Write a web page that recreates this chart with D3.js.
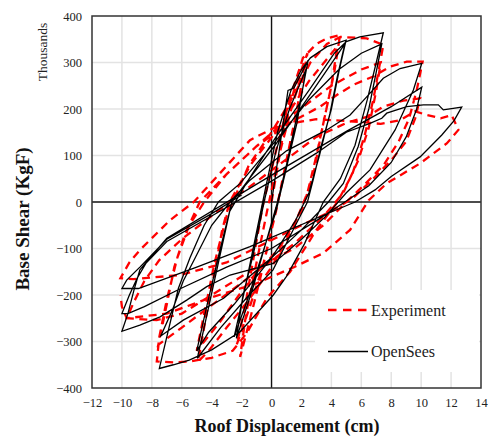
<!DOCTYPE html>
<html><head><meta charset="utf-8">
<script src="https://cdn.jsdelivr.net/npm/d3@7/dist/d3.min.js"></script>
<style>body{margin:0;background:#fff}svg{display:block}</style>
</head><body><svg id="c" width="489" height="437"></svg>
<script>
// ---- data (x: roof displacement cm, y: base shear, thousands kgf) ----
const xTicks = [-12,-10,-8,-6,-4,-2,0,2,4,6,8,10,12,14];
const yTicks = [-400,-300,-200,-100,0,100,200,300,400];
const seriesNames = ["Experiment","OpenSees"];

const expDisp = [0,0.8,1.5,2.4, 2.0,1.4,0.7,0,-0.8,-1.5,-2.1, -1.7,-1.0,-0.3,0.5,1.4,2.2,
 1.7,1.0,0.3,-0.6,-1.5,-2.33, -1.8,-1.2,-0.6,0.3,1.2,2.1,3.0,3.7,4.58,
 4.2,3.6,3.0,2.4,1.4,0,-1.5,-3,-4.2,-4.9, -4.4,-3.8,-3.3,-2.8,-1.4,0.5,2.5,4.4,
 4.0,3.4,2.8,2.0,0.5,-1.5,-3.5,-5, -4.5,-3.8,-3.0,-1.5,0,1.5,2.6,3.7,4.6,6.36,7.47,
 7.2,6.8,6.2,5.4,4.4,3,1.24,-0.32,-1.66,-2.6,-4,-5.5,-6.5,-7.67,
 -7.5,-7.0,-6.3,-5.5,-4.5,-3,-1,1.5,4,6,7.3,
 7.0,6.5,5.8,4.8,3.5,1.5,-1,-3.5,-6,-7.57,
 -7.0,-6.5,-5.8,-4.8,-3,-1,1.2,3.24,4.36,5.47,6.8,7.92,9.04,10.1,
 9.7,9.2,8.5,7.5,6.3,5,3.46,1.5,-1.5,-4,-6,-7.67,-9.68,
 -9.2,-8.5,-7.5,-6,-4,-2,0.5,3,5,6.36,7.47,8.8,9.93,
 9.6,9,8,6.8,5.5,4,2,-0.5,-3,-6.1,-9.24,-10.1,
 -9.5,-8.79,-6.78,-5.2,-3.5,-1.44,0.5,3,6,7.3,8.6,9.6,10.3,11.3,12.04,12.49,
 11.71,9.93,7.7,6.5,5.25,3.46,1.5,-1,-4,-7,-9.68,-10,-10.1];
const expShear = [0,150,240,320, 250,150,40,-60,-170,-260,-333, -240,-130,-20,100,210,290,
 200,90,-20,-140,-230,-307, -230,-120,-10,110,220,310,340,352,359,
 280,190,100,20,-60,-140,-210,-270,-320,-343, -250,-150,-60,0,80,160,260,335,
 250,160,60,-20,-100,-170,-260,-320, -240,-130,-30,80,150,230,300,340,355,352,338,
 290,220,140,60,0,-60,-150,-207,-282,-320,-335,-343,-345,-343,
 -290,-210,-120,-50,0,60,120,190,250,285,300,
 240,160,90,20,-30,-90,-150,-210,-270,-307,
 -220,-140,-70,0,60,120,170,205,230,252,270,291,302,302,
 240,180,130,80,40,0,-50,-100,-150,-200,-240,-254,-250,
 -215,-170,-125,-80,-30,20,80,140,170,183,205,218,223,
 180,130,90,50,10,-20,-50,-90,-130,-157,-166,-164,
 -130,-103,-39,0,60,133,165,178,172,168,176,195,188,180,187,155,
 126,83,40,4,-60,-110,-140,-175,-205,-240,-250,-225,-200];

const simDisp = [0,0.6,1.1,1.5,2.45, 2.0,1.6,1.0,0.4,-0.4,-1.2,-1.8,-2.35, -1.9,-1.2,-0.5,0.3,1.2,2.3,
 1.7,0.9,0.3,-0.6,-1.5,-2.5, -1.8,-1.1,-0.4,0.4,1.3,2.0,2.6,3.7,4.98,
 4.5,4.0,3.33,2.8,2.4,1.6,0.1,-1.5,-3.4,-4.96, -4.3,-3.44,-2.66,-1.2,0.23,2.6,4.9,
 4.4,3.9,3.2,2.5,1.6,0,-2.5,-4.2,-5, -4.3,-3.5,-2.8,-1.5,0.3,2.5,4.2,5.0,5.9,7.47,
 7.0,6.4,5.58,4.6,3.46,2.2,1.0,0.12,-2.1,-4.0,-5.5,-6.56,-7.5,
 -7.0,-6.23,-5.45,-4.5,-3.55,-2.1,0.5,2.5,4.5,6.0,7.37,
 7.0,6.5,5.8,4.8,3.8,2,0,-3.2,-5.9,-7.4,
 -6.6,-5.9,-5.1,-4,-2.77,-1.44,1,3.69,5.25,6.36,7.47,8.59,10.04,
 9.48,8.26,6.58,5,3.58,2,0.12,-2.77,-4.33,-5.67,-7.45,-8.8,-10,
 -9.6,-9.2,-8.8,-7,0.23,5,8,10.04,
 9.7,9.0,8.0,6.5,4.9,3,0,-3,-6,-8.5,-9.6,-10,
 -9.5,-9.0,-8.4,-7,-4,0,3,5,6.58,7.37,7.7,9.04,10.15,11.15,11.48,12.71,
 12.2,11.38,9.93,8,6.92,5.58,3,-1.44,-5,-8.9,-10,
 -9.68,-8.8,-7,-4,-2];
const simShear = [0,130,240,245,305, 230,170,80,0,-90,-180,-240,-293, -200,-110,0,110,200,285,
 170,60,-20,-110,-200,-290, -190,-80,30,150,240,285,310,334,348,
 280,200,122,50,0,-50,-146,-200,-270,-336, -240,-114,0,62,122,232,340,
 270,190,100,20,-40,-120,-220,-280,-320, -220,-110,-20,50,140,240,320,345,355,364,
 300,220,122,50,0,-90,-160,-200,-279,-318,-340,-350,-358,
 -290,-186,-120,-50,0,40,140,220,285,320,340,
 280,200,120,40,0,-60,-120,-207,-254,-288,
 -230,-170,-120,-50,0,47,110,155,187,226,266,287,298,
 241,155,69,20,-32,-80,-132,-157,-182,-211,-247,-265,-278,
 -240,-190,-146,-78,62,152,205,247,
 200,140,85,35,0,-40,-100,-140,-185,-225,-240,-240,
 -200,-165,-132,-85,-30,45,105,150,169,180,191,205,209,209,198,204,
 175,144,97,55,26,0,-35,-96,-140,-186,-186,
 -168,-140,-80,-25,15];

// ---- layout ----
const svg = d3.select("#c");
const L = 92, R = 481, T = 16, B = 388;
const x = d3.scaleLinear().domain([-12, 14]).range([L, R]);
const y = d3.scaleLinear().domain([-400, 400]).range([B, T]);
const serif = "'Liberation Serif','Times New Roman',serif";

// gridlines
svg.append("g").selectAll("line").data(xTicks.filter(d => d > -12 && d < 14 && d !== 0)).join("line")
  .attr("x1", d => x(d)).attr("x2", d => x(d)).attr("y1", T).attr("y2", B)
  .attr("stroke", "#e3e3e3").attr("stroke-width", 1.5);
svg.append("g").selectAll("line").data(yTicks.filter(d => d > -400 && d < 400 && d !== 0)).join("line")
  .attr("y1", d => y(d)).attr("y2", d => y(d)).attr("x1", L).attr("x2", R)
  .attr("stroke", "#e3e3e3").attr("stroke-width", 1.5);

// zero lines
svg.append("line").attr("x1", x(0)).attr("x2", x(0)).attr("y1", T).attr("y2", B).attr("stroke", "#111").attr("stroke-width", 1.4);
svg.append("line").attr("x1", L).attr("x2", R).attr("y1", y(0)).attr("y2", y(0)).attr("stroke", "#111").attr("stroke-width", 1.4);

// series
const line = d3.line().x(d => x(d[0])).y(d => y(d[1]));
const expPts = expDisp.map((d, i) => [d, expShear[i]]);
const simPts = simDisp.map((d, i) => [d, simShear[i]]);
svg.append("path").attr("d", line(expPts)).attr("fill", "none")
  .attr("stroke", "#ff0000").attr("stroke-width", 2.3).attr("stroke-dasharray", "8,5.5");
svg.append("path").attr("d", line(simPts)).attr("fill", "none")
  .attr("stroke", "#000").attr("stroke-width", 1.3).attr("stroke-linejoin", "miter");

// frame
svg.append("rect").attr("x", L).attr("y", T).attr("width", R - L).attr("height", B - T)
  .attr("fill", "none").attr("stroke", "#333").attr("stroke-width", 1.5);

// axes (labels only)
const ax = svg.append("g").attr("transform", `translate(0,${B + 10})`)
  .call(d3.axisBottom(x).tickValues(xTicks).tickSize(0).tickPadding(0));
ax.select(".domain").remove();
ax.attr("font-family", serif).attr("font-size", 12.5);
ax.selectAll("text").attr("fill", "#222");
const ay = svg.append("g").attr("transform", `translate(${L - 10},0)`)
  .call(d3.axisLeft(y).tickValues(yTicks).tickSize(0).tickPadding(0));
ay.select(".domain").remove();
ay.attr("font-family", serif).attr("font-size", 12.5);
ay.selectAll("text").attr("fill", "#222");

// titles
svg.append("text").attr("transform", "translate(47,52) rotate(-90)").attr("text-anchor", "middle")
  .attr("font-family", serif).attr("font-size", 13.5).attr("fill", "#222").text("Thousands");
svg.append("text").attr("transform", "translate(29,219) rotate(-90)").attr("text-anchor", "middle")
  .attr("font-family", serif).attr("font-size", 19).attr("font-weight", "bold").attr("fill", "#111").text("Base Shear (KgF)");
svg.append("text").attr("x", 287).attr("y", 432).attr("text-anchor", "middle")
  .attr("font-family", serif).attr("font-size", 18).attr("font-weight", "bold").attr("fill", "#111").text("Roof Displacement (cm)");

// legend
const lg = svg.append("g");
lg.append("rect").attr("x", 315).attr("y", 290).attr("width", 164).attr("height", 82).attr("fill", "#fff");
lg.append("line").attr("x1", 328).attr("x2", 368).attr("y1", 310).attr("y2", 310)
  .attr("stroke", "#ff0000").attr("stroke-width", 2.3).attr("stroke-dasharray", "8.5,6.5");
lg.append("line").attr("x1", 328).attr("x2", 368).attr("y1", 351.5).attr("y2", 351.5)
  .attr("stroke", "#000").attr("stroke-width", 1.3);
lg.selectAll("text").data(seriesNames).join("text")
  .attr("x", 371).attr("y", (d, i) => i === 0 ? 315.5 : 357)
  .attr("font-family", serif).attr("font-size", 16).attr("fill", "#222").text(d => d);
</script></body></html>
